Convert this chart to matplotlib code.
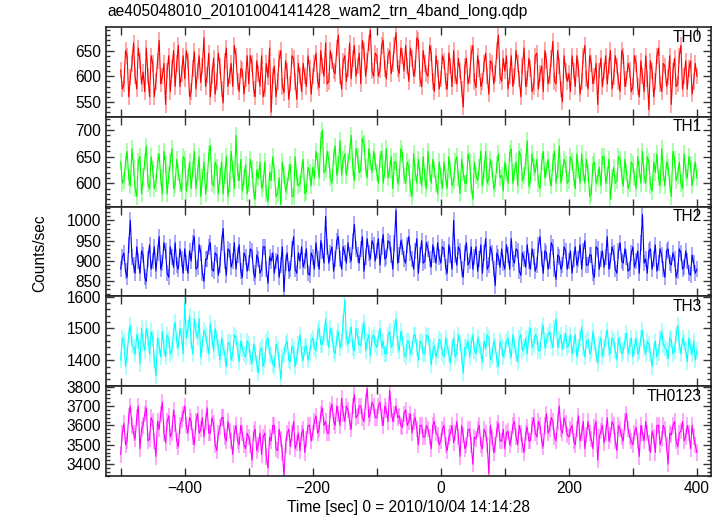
import numpy as np
import matplotlib
matplotlib.use("Agg")
import matplotlib.pyplot as plt
from matplotlib.ticker import MultipleLocator

plt.rcParams['font.family'] = ['Liberation Sans', 'DejaVu Sans']

# light curves: samples on the 5 s grid starting at t = -500 s,
# plus the samples half way between them (t = -497.5, -492.5, ...)
T_START = -500
T_STEP = 5

th0 = [612, 585, 640, 598, 665, 575, 630, 608, 655, 560, 625, 590, 670, 600, 545, 640, 615, 580, 660, 605,
       595, 630, 570, 648, 610, 588, 675, 602, 560, 635, 590, 620, 548, 655, 600, 580, 640, 570, 612, 595,
       585, 625, 560, 605, 640, 575, 598, 530, 620, 590, 650, 568, 610, 585, 635, 555, 600, 625, 580, 615,
       600, 645, 578, 620, 665, 590, 630, 605, 680, 575, 640, 615, 595, 660, 620, 585, 650, 630, 690, 600,
       640, 612, 670, 595, 650, 625, 685, 605, 640, 660, 590, 635, 615, 670, 580, 625, 600, 645, 570, 615,
       595, 630, 575, 620, 650, 585, 610, 540, 635, 600, 660, 578, 615, 590, 645, 565, 625, 605, 680, 590,
       610, 575, 640, 600, 625, 560, 655, 595, 615, 580, 645, 605, 570, 630, 600, 668, 585, 620, 550, 610,
       605, 640, 580, 615, 590, 660, 575, 625, 600, 545, 635, 610, 585, 650, 598, 620, 570, 640, 595, 612,
       580, 625, 560, 600, 640, 535, 610, 590, 655, 570, 620, 598, 545, 635, 585, 660, 600, 575, 630, 590,
       600]
th0_half = [575, 650, 560, 625, 600, 655, 585, 570, 600, 640, 560, 630, 585, 625, 610, 570, 650, 625, 580, 640,
            650, 560, 615, 575, 640, 620, 580, 645, 600, 565, 645, 575, 630, 580, 625, 660, 590, 615, 565, 640,
            640, 575, 630, 580, 560, 625, 655, 600, 560, 635, 580, 630, 555, 640, 590, 625, 570, 600, 640, 565,
            625, 590, 650, 600, 585, 650, 610, 655, 600, 630, 590, 665, 635, 600, 645, 670, 600, 665, 610, 645,
            600, 660, 615, 640, 605, 660, 615, 655, 610, 620, 655, 600, 675, 595, 650, 605, 660, 590, 640, 575,
            640, 590, 645, 580, 600, 635, 575, 620, 585, 645, 590, 640, 580, 625, 600, 630, 585, 650, 600, 635,
            640, 600, 580, 650, 595, 620, 580, 635, 570, 640, 575, 620, 650, 585, 635, 590, 650, 575, 640, 590,
            570, 610, 640, 565, 640, 595, 640, 585, 625, 610, 580, 640, 620, 575, 640, 590, 650, 580, 625, 570,
            640, 580, 630, 570, 595, 630, 560, 640, 585, 625, 580, 640, 610, 580, 640, 575, 630, 615, 565, 625]

th1 = [640, 605, 660, 595, 630, 575, 650, 612, 670, 590, 625, 600, 655, 580, 635, 615, 665, 598, 620, 585,
       645, 610, 590, 660, 620, 575, 640, 605, 670, 595, 630, 612, 580, 650, 600, 625, 690, 605, 585, 635,
       600, 625, 570, 610, 590, 640, 565, 605, 620, 580, 560, 615, 595, 635, 575, 610, 600, 645, 585, 620,
       630, 660, 610, 700, 625, 645, 600, 670, 635, 615, 655, 640, 690, 605, 650, 625, 675, 610, 640, 660,
       620, 645, 600, 665, 625, 590, 640, 610, 655, 600, 630, 575, 620, 645, 595, 610, 660, 600, 625, 580,
       615, 640, 590, 625, 605, 650, 580, 620, 600, 640, 570, 615, 630, 595, 660, 610, 625, 600, 655, 615,
       640, 600, 665, 620, 595, 650, 615, 680, 605, 630, 645, 590, 660, 625, 610, 640, 600, 670, 620, 635,
       605, 640, 590, 625, 655, 600, 620, 580, 640, 610, 595, 650, 615, 570, 630, 605, 645, 595, 620, 600,
       635, 590, 625, 660, 600, 640, 585, 620, 610, 665, 595, 630, 575, 645, 615, 600, 655, 610, 635, 620,
       610]
th1_half = [600, 640, 610, 665, 590, 640, 580, 640, 600, 650, 590, 640, 610, 660, 580, 640, 590, 645, 600, 650,
            585, 640, 625, 590, 650, 610, 580, 655, 600, 640, 580, 640, 615, 575, 660, 590, 620, 645, 610, 580,
            645, 585, 625, 640, 600, 580, 620, 650, 575, 610, 640, 585, 620, 575, 650, 595, 625, 580, 630, 595,
            610, 640, 680, 620, 660, 610, 650, 615, 680, 645, 615, 660, 630, 665, 620, 685, 630, 665, 620, 640,
            600, 660, 625, 610, 650, 640, 600, 665, 615, 640, 590, 655, 600, 615, 650, 590, 620, 645, 600, 640,
            590, 610, 650, 595, 640, 610, 645, 600, 655, 595, 640, 605, 660, 625, 600, 645, 590, 635, 610, 585,
            620, 655, 600, 640, 660, 605, 640, 595, 655, 620, 600, 640, 610, 645, 595, 660, 625, 600, 645, 600,
            650, 610, 655, 600, 620, 645, 575, 635, 600, 630, 650, 600, 645, 610, 600, 650, 615, 645, 590, 640,
            610, 650, 600, 615, 650, 595, 640, 655, 595, 620, 640, 600, 660, 605, 640, 590, 620, 650, 595, 640]

th2 = [880, 920, 860, 1000, 890, 935, 870, 915, 850, 940, 900, 875, 960, 895, 925, 860, 910, 945, 880, 905,
       930, 870, 900, 960, 885, 920, 850, 905, 945, 875, 915, 890, 980, 865, 925, 900, 880, 940, 860, 910,
       895, 925, 860, 905, 880, 935, 845, 900, 870, 915, 890, 825, 920, 880, 960, 870, 900, 885, 930, 865,
       910, 945, 880, 925, 1010, 895, 935, 905, 960, 880, 920, 945, 900, 990, 915, 930, 875, 955, 905, 940,
       925, 890, 965, 910, 945, 880, 1025, 915, 935, 895, 960, 905, 925, 870, 950, 900, 930, 885, 915, 945,
       895, 930, 870, 915, 1000, 890, 925, 860, 945, 900, 880, 935, 905, 870, 955, 890, 920, 840, 910, 930,
       880, 915, 955, 895, 925, 865, 905, 940, 880, 910, 890, 960, 870, 920, 900, 935, 855, 910, 890, 925,
       900, 870, 935, 905, 880, 950, 890, 915, 860, 930, 905, 885, 960, 900, 920, 870, 945, 895, 910, 880,
       935, 900, 870, 1015, 905, 925, 880, 940, 895, 915, 860, 930, 890, 905, 875, 920, 885, 900, 865, 895,
       880]
th2_half = [910, 875, 940, 910, 870, 900, 925, 860, 905, 880, 935, 920, 880, 945, 870, 935, 885, 890, 930, 870,
            895, 925, 945, 880, 940, 870, 905, 935, 880, 920, 865, 945, 900, 930, 885, 945, 915, 875, 920, 875,
            930, 870, 915, 870, 935, 880, 910, 920, 900, 860, 935, 895, 875, 930, 880, 920, 935, 900, 870, 920,
            880, 905, 950, 895, 935, 920, 875, 950, 905, 935, 895, 915, 950, 930, 895, 960, 910, 920, 950, 900,
            955, 935, 905, 950, 915, 945, 895, 950, 905, 940, 920, 880, 955, 915, 895, 945, 905, 940, 895, 910,
            935, 885, 940, 880, 915, 935, 880, 920, 890, 935, 910, 875, 940, 920, 880, 935, 880, 920, 885, 895,
            940, 880, 905, 930, 875, 920, 885, 900, 930, 875, 940, 905, 925, 880, 945, 880, 915, 880, 935, 880,
            925, 905, 890, 940, 925, 890, 915, 870, 935, 880, 925, 910, 880, 935, 880, 925, 900, 930, 875, 920,
            885, 925, 945, 895, 870, 930, 905, 875, 930, 880, 925, 895, 920, 860, 930, 880, 925, 870, 915, 870]

th3 = [1400, 1460, 1420, 1510, 1440, 1480, 1390, 1455, 1500, 1420, 1470, 1350, 1445, 1490, 1410, 1465, 1430, 1520, 1440, 1475,
       1580, 1500, 1460, 1530, 1470, 1410, 1495, 1450, 1515, 1430, 1470, 1400, 1440, 1380, 1455, 1420, 1470, 1395, 1435, 1410,
       1450, 1390, 1425, 1360, 1440, 1400, 1470, 1415, 1380, 1435, 1340, 1420, 1460, 1395, 1430, 1410, 1480, 1400, 1445, 1420,
       1470, 1430, 1500, 1450, 1530, 1440, 1480, 1420, 1490, 1460, 1590, 1450, 1505, 1430, 1475, 1445, 1520, 1460, 1415, 1480,
       1440, 1500, 1460, 1420, 1490, 1450, 1530, 1430, 1470, 1410, 1460, 1435, 1480, 1400, 1455, 1420, 1475, 1385, 1445, 1430,
       1460, 1410, 1445, 1390, 1470, 1425, 1455, 1360, 1440, 1410, 1480, 1420, 1450, 1395, 1435, 1470, 1415, 1445, 1380, 1440,
       1430, 1470, 1410, 1450, 1395, 1480, 1440, 1420, 1500, 1450, 1475, 1430, 1510, 1460, 1490, 1440, 1530, 1465, 1435, 1485,
       1450, 1420, 1480, 1440, 1505, 1410, 1465, 1430, 1455, 1390, 1470, 1440, 1495, 1420, 1460, 1400, 1450, 1430, 1485, 1445,
       1410, 1470, 1430, 1495, 1420, 1450, 1380, 1460, 1425, 1490, 1440, 1405, 1465, 1430, 1510, 1420, 1455, 1395, 1440, 1460,
       1430]
th3_half = [1470, 1380, 1480, 1450, 1420, 1460, 1500, 1430, 1470, 1490, 1400, 1470, 1410, 1440, 1480, 1420, 1490, 1460, 1500, 1420,
            1470, 1540, 1420, 1490, 1530, 1450, 1480, 1420, 1470, 1500, 1440, 1470, 1420, 1455, 1400, 1480, 1430, 1460, 1420, 1460,
            1410, 1450, 1390, 1430, 1380, 1460, 1420, 1390, 1450, 1400, 1410, 1450, 1400, 1445, 1380, 1450, 1420, 1440, 1400, 1460,
            1440, 1490, 1450, 1480, 1470, 1500, 1430, 1470, 1440, 1520, 1470, 1480, 1440, 1500, 1450, 1490, 1430, 1480, 1470, 1450,
            1470, 1440, 1420, 1480, 1440, 1500, 1450, 1490, 1420, 1460, 1420, 1480, 1440, 1460, 1420, 1480, 1440, 1430, 1410, 1465,
            1420, 1470, 1420, 1440, 1410, 1480, 1410, 1440, 1460, 1450, 1430, 1470, 1430, 1460, 1480, 1400, 1460, 1400, 1460, 1410,
            1460, 1430, 1480, 1420, 1470, 1430, 1470, 1480, 1440, 1480, 1430, 1490, 1440, 1480, 1460, 1500, 1440, 1480, 1460, 1440,
            1480, 1450, 1410, 1470, 1440, 1460, 1420, 1490, 1420, 1450, 1410, 1470, 1440, 1470, 1430, 1470, 1420, 1460, 1420, 1470,
            1440, 1420, 1470, 1440, 1460, 1420, 1430, 1410, 1470, 1450, 1430, 1470, 1420, 1480, 1450, 1470, 1430, 1470, 1420, 1400]

th0123 = [3450, 3610, 3520, 3700, 3560, 3640, 3480, 3600, 3690, 3530, 3620, 3440, 3580, 3720, 3510, 3650, 3560, 3610, 3490, 3630,
          3700, 3560, 3620, 3500, 3660, 3580, 3540, 3690, 3560, 3610, 3470, 3590, 3640, 3520, 3570, 3450, 3600, 3500, 3560, 3480,
          3540, 3420, 3580, 3500, 3450, 3560, 3380, 3520, 3600, 3470, 3530, 3340, 3560, 3490, 3620, 3510, 3470, 3580, 3530, 3600,
          3560, 3650, 3580, 3690, 3620, 3560, 3710, 3600, 3660, 3740, 3620, 3680, 3580, 3760, 3650, 3700, 3620, 3790, 3660, 3700,
          3640, 3720, 3600, 3680, 3780, 3620, 3700, 3650, 3590, 3680, 3620, 3560, 3640, 3500, 3600, 3540, 3580, 3480, 3620, 3550,
          3520, 3600, 3470, 3560, 3510, 3620, 3440, 3550, 3500, 3580, 3400, 3530, 3600, 3480, 3560, 3350, 3540, 3500, 3610, 3520,
          3480, 3570, 3530, 3620, 3500, 3560, 3460, 3590, 3520, 3640, 3540, 3600, 3490, 3660, 3580, 3620, 3520, 3700, 3560, 3610,
          3540, 3600, 3500, 3650, 3560, 3480, 3620, 3530, 3590, 3420, 3570, 3510, 3640, 3550, 3600, 3470, 3580, 3520, 3660, 3540,
          3500, 3590, 3440, 3560, 3620, 3510, 3570, 3460, 3600, 3530, 3580, 3400, 3550, 3620, 3490, 3570, 3520, 3600, 3480, 3540,
          3460]
th0123_half = [3560, 3500, 3650, 3600, 3530, 3700, 3580, 3660, 3520, 3640, 3520, 3620, 3660, 3560, 3620, 3540, 3680, 3520, 3600, 3660,
               3600, 3640, 3540, 3620, 3560, 3640, 3620, 3560, 3640, 3500, 3560, 3640, 3540, 3620, 3520, 3560, 3520, 3600, 3500, 3560,
               3500, 3560, 3470, 3560, 3540, 3440, 3540, 3600, 3480, 3580, 3460, 3500, 3580, 3560, 3480, 3560, 3560, 3460, 3600, 3520,
               3620, 3560, 3660, 3600, 3560, 3680, 3620, 3700, 3600, 3660, 3700, 3620, 3700, 3640, 3700, 3640, 3720, 3640, 3720, 3640,
               3700, 3640, 3700, 3620, 3680, 3660, 3640, 3600, 3660, 3600, 3660, 3620, 3580, 3600, 3540, 3600, 3540, 3600, 3560, 3500,
               3580, 3500, 3540, 3600, 3560, 3540, 3600, 3480, 3580, 3500, 3540, 3580, 3500, 3580, 3500, 3600, 3460, 3580, 3520, 3580,
               3560, 3500, 3600, 3540, 3600, 3500, 3560, 3520, 3600, 3560, 3620, 3520, 3600, 3560, 3640, 3540, 3620, 3580, 3640, 3550,
               3580, 3520, 3580, 3520, 3620, 3550, 3560, 3480, 3620, 3540, 3600, 3560, 3520, 3620, 3520, 3600, 3540, 3620, 3580, 3520,
               3560, 3520, 3600, 3520, 3560, 3460, 3540, 3600, 3500, 3600, 3500, 3560, 3600, 3520, 3560, 3620, 3540, 3560, 3600, 3500]

series = [(th0, th0_half), (th1, th1_half), (th2, th2_half), (th3, th3_half), (th0123, th0123_half)]
# typical 1-sigma error bar of each band (counts/sec)
errors = [16, 16, 20, 26, 42]
names = ["TH0", "TH1", "TH2", "TH3", "TH0123"]
colors = ["#ff0000", "#00ff00", "#0000ff", "#00ffff", "#ff00ff"]
ylims = [(521, 696), (556, 725), (813, 1034), (1318, 1601), (3339, 3802)]
ymajor = [50, 50, 50, 100, 100]
yminor = [10, 10, 10, 20, 20]

title = "ae405048010_20101004141428_wam2_trn_4band_long.qdp"
xlabel = "Time [sec] 0 = 2010/10/04 14:14:28"
ylabel = "Counts/sec"


def merge(grid, half):
    t = np.concatenate([T_START + T_STEP * np.arange(len(grid)),
                        T_START + T_STEP * (np.arange(len(half)) + 0.5)])
    y = np.concatenate([grid, half])
    order = np.argsort(t)
    return t[order], y[order]


fig, axes = plt.subplots(5, 1, figsize=(7.23, 5.16), dpi=100, sharex=True)
fig.subplots_adjust(left=0.1466, right=0.9834, top=0.9477, bottom=0.0775, hspace=0)

for ax, (grid, half), err, name, c, yl, ma, mi in zip(axes, series, errors, names, colors, ylims, ymajor, yminor):
    t, y = merge(grid, half)
    ax.vlines(t, y - err, y + err, color=c, lw=1.2, alpha=0.4)
    ax.plot(t, y, color=c, lw=0.8)
    ax.set_xlim(-523, 422)
    ax.set_ylim(*yl)
    ax.yaxis.set_major_locator(MultipleLocator(ma))
    ax.yaxis.set_minor_locator(MultipleLocator(mi))
    ax.xaxis.set_major_locator(MultipleLocator(200))
    ax.xaxis.set_minor_locator(MultipleLocator(100))
    ax.tick_params(which="both", direction="in", top=True, right=True,
                   labelsize=11.2, width=1.0, color="#333333")
    ax.tick_params(which="major", axis="y", length=6)
    ax.tick_params(which="minor", axis="y", length=3)
    ax.tick_params(which="both", axis="x", length=6)
    for s in ax.spines.values():
        s.set_linewidth(1.2)
        s.set_color("#222222")
    ax.text(0.985, 0.97, name, transform=ax.transAxes, ha="right", va="top", fontsize=11.2)

fig.text(0.149, 0.977, title, fontsize=11.2, ha="left", va="center")
fig.text(0.565, 0.016, xlabel, fontsize=11.2, ha="center", va="center")
fig.text(0.055, 0.51, ylabel, fontsize=11.2, ha="center", va="center", rotation=90)

fig.savefig("out.png", dpi=100)
